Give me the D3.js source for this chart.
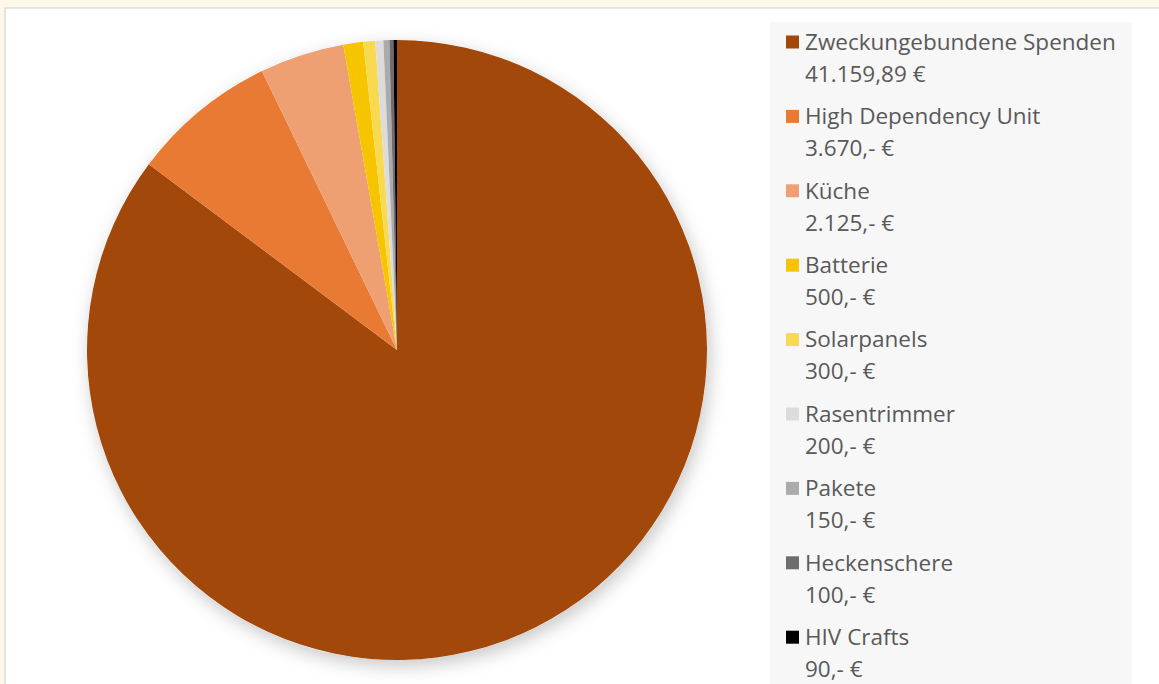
<!DOCTYPE html>
<html>
<head>
<meta charset="utf-8">
<script src="https://cdn.jsdelivr.net/npm/d3@7"></script>
<style>
  html, body { margin: 0; padding: 0; background: #fdf8e9; overflow: hidden; }
  svg { display: block; }
</style>
</head>
<body>
<svg id="chart" width="1159" height="684"></svg>
<script>
// Spenden-Aufteilung
const categories = [
  "Zweckungebundene Spenden", "High Dependency Unit", "Küche", "Batterie",
  "Solarpanels", "Rasentrimmer", "Pakete", "Heckenschere", "HIV Crafts"
];
const amounts = [41159.89, 3670, 2125, 500, 300, 200, 150, 100, 90];
const amountLabels = [
  "41.159,89 €", "3.670,- €", "2.125,- €", "500,- €", "300,- €",
  "200,- €", "150,- €", "100,- €", "90,- €"
];
const colors = [
  "#a3480b", "#e97a33", "#eea072", "#f6c500", "#f8da50",
  "#dcdcdc", "#ababab", "#6e6e6e", "#000000"
];

const svg = d3.select("#chart");
const W = 1159, H = 684;

// page frame
svg.append("rect").attr("x", 5).attr("y", 8).attr("width", W).attr("height", H)
  .attr("fill", "#ffffff").attr("stroke", "#d6d6d6").attr("stroke-width", 1.2);

const defs = svg.append("defs");
const f = defs.append("filter").attr("id", "shadow")
  .attr("x", "-20%").attr("y", "-20%").attr("width", "140%").attr("height", "140%");
f.append("feDropShadow").attr("dx", 3).attr("dy", 6).attr("stdDeviation", 9)
  .attr("flood-color", "#000").attr("flood-opacity", 0.22);

// legend panel
svg.append("rect").attr("x", 770).attr("y", 22).attr("width", 362).attr("height", 680)
  .attr("fill", "#f7f7f7");

// pie
const cx = 397, cy = 350, r = 310;
const data = categories.map((c, i) => ({ name: c, value: amounts[i], color: colors[i] }));
const pie = d3.pie().value(d => d.value).sort(null);
const arc = d3.arc().innerRadius(0).outerRadius(r);

const g = svg.append("g").attr("transform", `translate(${cx},${cy})`);
g.append("circle").attr("r", r).attr("fill", "#fff").attr("filter", "url(#shadow)");
g.selectAll("path").data(pie(data)).join("path")
  .attr("d", arc)
  .attr("fill", d => d.data.color);

// legend
const legend = svg.append("g");
const y0 = 42, step = 74.4;
const font = "Open Sans, sans-serif", fontSize = 22.5;
const items = legend.selectAll("g").data(data).join("g")
  .attr("transform", (d, i) => `translate(786, ${y0 + i * step})`);
items.append("rect").attr("x", 0).attr("y", -6.5).attr("width", 13).attr("height", 13)
  .attr("fill", d => d.color);
items.append("text").attr("x", 19).attr("y", 0).attr("dy", "0.35em")
  .attr("font-family", font).attr("font-size", fontSize)
  .attr("fill", "#595959").text(d => d.name);
items.append("text").attr("x", 19).attr("y", 32).attr("dy", "0.35em")
  .attr("font-family", font).attr("font-size", fontSize)
  .attr("fill", "#595959").text((d, i) => amountLabels[i]);
</script>
</body>
</html>
